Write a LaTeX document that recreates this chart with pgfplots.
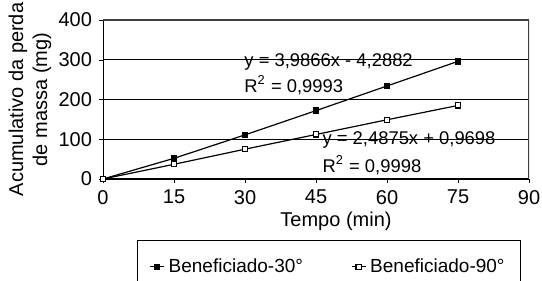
\documentclass[border=0pt]{standalone}
\usepackage{fontspec}
\setmainfont{Liberation Sans}
\usepackage{pgfplots}
\pgfplotsset{compat=1.18}
\begin{document}
\begin{tikzpicture}[font=\fontsize{10}{12}\selectfont]
\begin{axis}[
  scale only axis, width=213pt, height=79.5pt,
  xmin=0, xmax=90, ymin=0, ymax=400,
  xtick={0,15,30,45,60,75,90}, ytick={0,100,200,300,400},
  axis lines=left, axis line style={-, black},
  tick align=outside, major tick length=2pt,
  tick style={black},
  ymajorgrids, grid style={black, line width=0.5pt},
  /pgf/number format/assume math mode=true,
  tick label style={font=\fontsize{10}{12}\selectfont},
  label style={font=\fontsize{10}{12}\selectfont},
  xlabel={Tempo (min)},
  xlabel style={at={(axis description cs:0.5,0)}, anchor=north, yshift=-13pt, xshift=10pt},
  ylabel={Acumulativo da perda\\de massa (mg)},
  ylabel style={align=center, at={(axis description cs:-0.105,0.5)}, anchor=south},
  legend columns=2,
  legend style={at={(axis description cs:0.08,-0.384)}, anchor=north west, draw=black,
    inner xsep=6pt, inner ysep=7pt, font=\fontsize{9.5}{11}\selectfont,
    /tikz/every even column/.append style={column sep=22pt}},
  legend cell align=left,
  legend image code/.code={\draw[mark repeat=2,mark phase=2] plot coordinates {(0pt,0pt)(3.5pt,0pt)(7pt,0pt)};},
]
\addplot[black, line width=0.6pt, mark=square*, mark size=1.3pt, mark options={fill=black}]
  coordinates {(0,0) (15,52) (30,111) (45,172) (60,234) (75,296)};
\addlegendentry{Beneficiado-30°}
\addplot[black, line width=0.6pt, mark=square*, mark size=1.3pt, mark options={fill=white}]
  coordinates {(0,0) (15,37) (30,75) (45,112) (60,149) (75,185)};
\addlegendentry{Beneficiado-90°}
\node[anchor=west, inner sep=0pt, font=\fontsize{9.2}{11}\selectfont] at (axis cs:29.8,294) {y = 3,9866x - 4,2882};
\node[anchor=west, inner sep=0pt, font=\fontsize{9.2}{11}\selectfont] at (axis cs:29.8,236) {R\textsuperscript{2} = 0,9993};
\node[anchor=west, inner sep=0pt, font=\fontsize{9.2}{11}\selectfont] at (axis cs:46.3,98) {y = 2,4875x + 0,9698};
\node[anchor=west, inner sep=0pt, font=\fontsize{9.2}{11}\selectfont] at (axis cs:46.3,35) {R\textsuperscript{2} = 0,9998};
\draw[black!75, line width=0.6pt] (rel axis cs:0,1) -- (rel axis cs:1,1) -- (rel axis cs:1,0);
\coordinate (ll) at (rel axis cs:0,0);
\coordinate (ur) at (rel axis cs:1,1);
\end{axis}
\pgfresetboundingbox
\path[use as bounding box] ([xshift=-51.5pt,yshift=-51pt]ll) rectangle ([xshift=6.5pt,yshift=10pt]ur);
\end{tikzpicture}
\end{document}
